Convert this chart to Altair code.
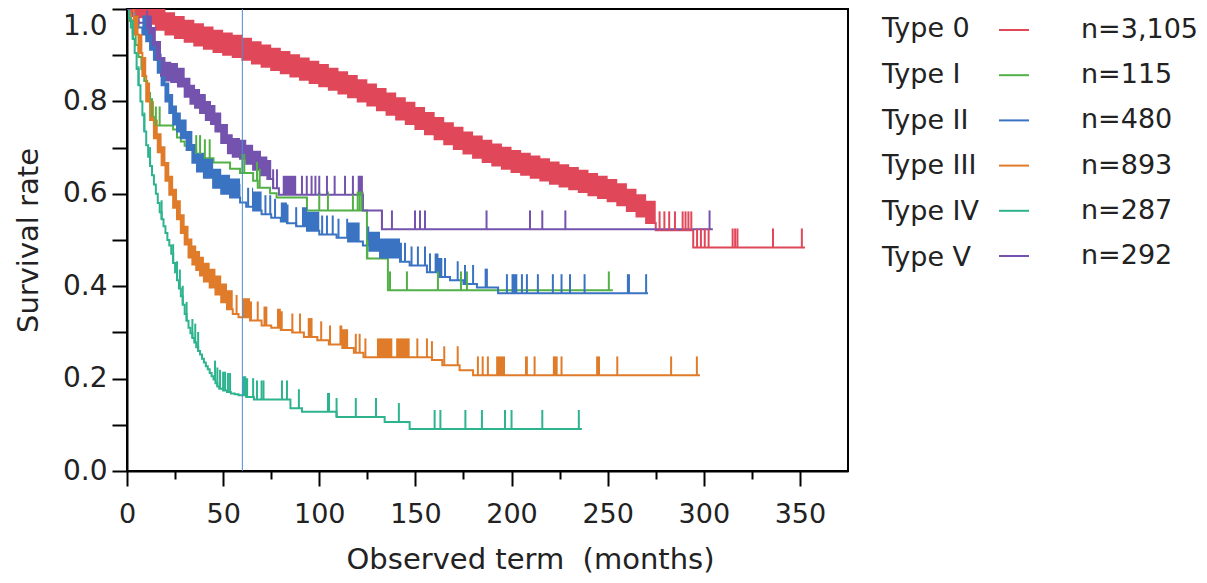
import altair as alt
import pandas as pd

TYPES = ["Type 0", "Type I", "Type II", "Type III", "Type IV", "Type V"]
N_LABELS = ["n=3,105", "n=115", "n=480", "n=893", "n=287", "n=292"]
COLORS = ["#E0485A", "#52B046", "#3B73C3", "#E07B2A", "#2DB38E", "#7453AE"]

X_TICKS = [0, 25, 50, 75, 100, 125, 150, 175, 200, 225, 250, 275, 300, 325, 350]
Y_TICKS = [0.0, 0.1, 0.2, 0.3, 0.4, 0.5, 0.6, 0.7, 0.8, 0.9, 1.0]
FIVE_YEAR = [60]

# ---- Type 0 ----
T0_TIME = [0, 2, 5, 10, 15, 20, 25, 30, 35, 40, 45, 50, 55, 60, 65, 70, 75, 80, 85, 90,
           95, 100, 105, 110, 115, 120, 125, 130, 135, 140, 145, 150, 155, 160, 165, 170,
           175, 180, 185, 190, 195, 200, 205, 210, 215, 220, 225, 230, 235, 240, 245, 250,
           255, 260, 265, 270, 275, 294.5]
T0_SURV = [1.000, 0.993, 0.982, 0.968, 0.955, 0.945, 0.937, 0.929, 0.921, 0.914, 0.907,
           0.901, 0.896, 0.890, 0.882, 0.875, 0.868, 0.861, 0.854, 0.847, 0.840, 0.833,
           0.825, 0.817, 0.809, 0.800, 0.791, 0.781, 0.771, 0.761, 0.751, 0.740, 0.729,
           0.718, 0.707, 0.697, 0.687, 0.678, 0.669, 0.661, 0.654, 0.647, 0.641, 0.635,
           0.629, 0.622, 0.616, 0.610, 0.604, 0.597, 0.591, 0.584, 0.575, 0.563, 0.551,
           0.537, 0.521, 0.484]
T0_END = 352.6
T0_CENSOR = [277, 279.5, 282, 285, 289, 290.5, 292, 293.5, 296.5, 298.5, 300.5, 302.5,
             315, 316.3, 317.5, 336, 351]
T0_DENSE = [(0, 275)]

# ---- Type I ----
T1_TIME = [0, 1.5, 3, 4.5, 6, 7.5, 9, 10.5, 12, 13, 14, 24, 26, 28, 30, 33, 36, 40, 45,
           53.6, 58.8, 65.6, 68, 74.4, 77.8, 93.6, 124.8, 135.7]
T1_SURV = [1.0, 0.974, 0.948, 0.922, 0.896, 0.870, 0.844, 0.818, 0.792, 0.766, 0.748,
           0.739, 0.722, 0.713, 0.704, 0.695, 0.686, 0.677, 0.668, 0.654, 0.645, 0.628,
           0.613, 0.601, 0.592, 0.564, 0.460, 0.391]
T1_END = 252.7
T1_CENSOR = [13, 15, 17, 36, 38, 40.5, 43, 60, 61, 67.6, 69, 100, 104.5, 117.5, 120,
             121, 122, 125, 136.8, 145.6, 161.7, 173.7, 176.8, 250.6]
T1_DENSE = []

# ---- Type II ----
T2_TIME = [0, 2, 4, 6, 8, 10, 12, 14, 16, 18, 20, 22, 24, 26, 28, 31, 34, 36.4, 40, 44.8,
           49, 53.6, 58.8, 62, 65.6, 70, 75, 80, 83.2, 88, 93.6, 100, 109, 115, 122.7,
           126, 131.6, 142, 147, 156, 162, 168, 175, 182, 193]
T2_SURV = [1.0, 0.99, 0.975, 0.96, 0.945, 0.93, 0.912, 0.89, 0.862, 0.835, 0.80, 0.775,
           0.75, 0.735, 0.72, 0.695, 0.667, 0.648, 0.635, 0.613, 0.60, 0.592, 0.581,
           0.572, 0.564, 0.556, 0.548, 0.54, 0.536, 0.53, 0.52, 0.512, 0.505, 0.497,
           0.488, 0.477, 0.462, 0.453, 0.445, 0.43, 0.42, 0.413, 0.405, 0.397, 0.385]
T2_END = 271
T2_CENSOR = [63, 72, 74.5, 77, 88, 101.5, 104, 107, 110, 144.6, 148, 151.3, 155, 157.6,
             165.4, 172, 175.8, 180, 197.6, 205.4, 208, 213.7, 221.5, 226, 230.4, 238, 270]
T2_DENSE = [(8, 59), (65, 70), (80, 84), (91, 100), (114, 121), (125, 143), (160, 164),
            (186, 187.7), (200, 203), (260, 261.6)]

# ---- Type III ----
T3_TIME = [0, 2, 4, 6, 8, 10, 12, 14, 16, 18, 20, 22, 24, 26, 28, 30, 32, 34, 36, 38, 40,
           43, 46, 49, 52, 55, 58, 64, 70, 75, 80, 86, 92, 99, 105, 112, 118, 123, 158.6,
           164, 173, 180]
T3_SURV = [1.0, 0.975, 0.945, 0.905, 0.855, 0.80, 0.76, 0.72, 0.69, 0.662, 0.628, 0.598,
           0.57, 0.545, 0.515, 0.49, 0.462, 0.447, 0.435, 0.423, 0.41, 0.397, 0.382,
           0.365, 0.35, 0.34, 0.333, 0.326, 0.315, 0.31, 0.305, 0.30, 0.29, 0.283, 0.274,
           0.266, 0.256, 0.246, 0.24, 0.229, 0.218, 0.207]
T3_END = 298
T3_CENSOR = [57, 68, 86, 90, 101, 105.6, 119, 121, 124, 151, 156, 158.6, 165, 172, 182.5,
             185, 187.7, 212, 226, 255, 283, 296.4]
T3_DENSE = [(3, 55), (60, 65), (71, 73), (78, 81), (94, 96.5), (110.5, 115), (130, 138),
            (140, 147), (192, 196.6), (207, 208.5), (221.5, 224), (244, 246)]

# ---- Type IV ----
T4_TIME = [0, 1, 2, 3, 4, 5, 6, 7, 8, 9, 10, 11, 12, 13, 14, 15, 16, 17, 18, 19, 20, 21,
           22, 23, 24, 25, 26, 27, 28, 29, 30, 31, 32, 33, 34, 35, 36, 37, 38, 39, 40, 41,
           42, 43, 44, 45, 46, 47, 48, 50, 52, 54, 56, 58, 62, 66, 85, 91, 109, 134, 147]
T4_SURV = [1.0, 0.98, 0.96, 0.935, 0.905, 0.87, 0.835, 0.80, 0.77, 0.735, 0.705, 0.68,
           0.66, 0.64, 0.62, 0.60, 0.58, 0.56, 0.545, 0.53, 0.515, 0.50, 0.488, 0.47,
           0.45, 0.43, 0.413, 0.395, 0.378, 0.36, 0.34, 0.325, 0.31, 0.298, 0.288, 0.278,
           0.268, 0.26, 0.252, 0.243, 0.235, 0.227, 0.22, 0.212, 0.205, 0.198, 0.19,
           0.183, 0.178, 0.174, 0.171, 0.168, 0.166, 0.164, 0.16, 0.155, 0.136, 0.128,
           0.117, 0.106, 0.091]
T4_END = 236.6
T4_CENSOR = [3, 6, 9, 12, 18, 24, 26, 27.5, 29, 31, 34, 35.5, 37, 45.8, 47, 48.4, 50, 51,
             52.5, 53.6, 65.6, 67.6, 70, 71, 80.6, 83.2, 89.4, 109, 119, 129.5, 141.4,
             160, 163, 176, 184.6, 196.6, 200, 216, 235]
T4_DENSE = [(60, 63), (104, 105.6)]

# ---- Type V ----
T5_TIME = [0, 3, 6, 9, 11, 13, 15, 17.7, 20, 23, 26.5, 30, 33, 35.4, 38, 41, 43.7, 46, 49,
           52.5, 55, 58.8, 62, 65.6, 69.7, 73, 76, 79, 122.7, 132.6]
T5_SURV = [1.0, 0.985, 0.97, 0.955, 0.945, 0.92, 0.89, 0.855, 0.845, 0.842, 0.832, 0.81,
           0.795, 0.786, 0.775, 0.76, 0.751, 0.735, 0.71, 0.688, 0.68, 0.676, 0.665,
           0.652, 0.64, 0.632, 0.612, 0.598, 0.564, 0.523]
T5_END = 304.7
T5_CENSOR = [76, 78, 91, 93.5, 96, 98, 100, 104, 108, 113.4, 117.5, 132.6, 137.8, 149.8,
             152.4, 155, 187, 209.6, 216, 228, 303]
T5_DENSE = [(10, 75), (81, 88), (120, 123)]

CURVES = [
    ("Type 0", T0_TIME, T0_SURV, T0_END, T0_CENSOR, T0_DENSE),
    ("Type I", T1_TIME, T1_SURV, T1_END, T1_CENSOR, T1_DENSE),
    ("Type II", T2_TIME, T2_SURV, T2_END, T2_CENSOR, T2_DENSE),
    ("Type III", T3_TIME, T3_SURV, T3_END, T3_CENSOR, T3_DENSE),
    ("Type IV", T4_TIME, T4_SURV, T4_END, T4_CENSOR, T4_DENSE),
    ("Type V", T5_TIME, T5_SURV, T5_END, T5_CENSOR, T5_DENSE),
]

TICK_H = 0.041       # length of a censoring mark, in survival units
DENSE_H = {"Type 0": 0.048}  # the densely censored Type 0 band looks a bit taller


def surv_at(times, survs, t):
    v = survs[0]
    for ti, si in zip(times, survs):
        if ti <= t:
            v = si
        else:
            break
    return v


line_rows, band_rows, tick_rows = [], [], []
for name, ts, ss, end, cens, dense in CURVES:
    for ti, si in zip(ts, ss):
        line_rows.append({"type": name, "t": ti, "s": si})
    line_rows.append({"type": name, "t": end, "s": ss[-1]})
    h = DENSE_H.get(name, TICK_H)
    for k, (a, b) in enumerate(dense):
        pts = [a] + [ti for ti in ts if a < ti < b] + [b]
        for p in pts:
            s = surv_at(ts, ss, p)
            band_rows.append({"type": name, "band": f"{name}-{k}", "t": p, "s": s,
                              "s2": s + h})
    for c in cens:
        s = surv_at(ts, ss, c)
        tick_rows.append({"type": name, "t": c, "s": s, "s2": s + TICK_H})

lines_df = pd.DataFrame(line_rows)
bands_df = pd.DataFrame(band_rows)
ticks_df = pd.DataFrame(tick_rows)
legend_df = pd.DataFrame({"name": TYPES})
vline_df = pd.DataFrame({"t": FIVE_YEAR})

FONT = "DejaVu Sans"
TXT = "#222222"

color_scale = alt.Scale(domain=TYPES, range=COLORS)

x_axis = alt.Axis(
    values=X_TICKS,
    labelExpr="datum.value % 50 === 0 ? datum.label : ''",
    tickSize={"condition": {"test": "datum.value % 50 === 0", "value": 15}, "value": 8},
    labelFlush=False,
    labelFontSize=27,
    labelPadding=15,
    titleFontSize=29,
    titleX=403,
    titleY=97,
    titleAlign="center",
    titleBaseline="alphabetic",
)
y_axis = alt.Axis(
    values=Y_TICKS,
    labelExpr="round(datum.value * 10) % 2 === 0 ? format(datum.value, '.1f') : ''",
    tickSize=15,
    labelFlush=False,
    labelFontSize=28,
    labelPadding=5,
    labelBaseline={"condition": {"test": "datum.value >= 1", "value": "top"}, "value": "middle"},
    labelOffset={"condition": {"test": "datum.value >= 1", "value": 3}, "value": 0},
    titleFontSize=29,
    titleX=-90,
    titleY=231,
    titleBaseline="alphabetic",
)

X = alt.X("t:Q", scale=alt.Scale(domain=[0, 375], nice=False, zero=False),
          axis=x_axis, title="Observed term\u00a0 (months)")
Y = alt.Y("s:Q", scale=alt.Scale(domain=[0, 1], nice=False), axis=y_axis,
          title="Survival rate")

N_EXPR = ("[" + ",".join(f"'{n}'" for n in N_LABELS) + "][indexof(["
          + ",".join(f"'{t}'" for t in TYPES) + "], datum.label)]")

legend_n = alt.Legend(
    orient="none", legendX=871, legendY=5, padding=0,
    symbolType="stroke", symbolSize=900, symbolStrokeWidth=2,
    labelFont=FONT, labelFontSize=27, labelColor=TXT, labelOffset=51,
    rowPadding=16.2, labelExpr=N_EXPR,
)
COLOR = alt.Color("type:N", scale=color_scale, title=None, legend=legend_n)

lines = alt.Chart(lines_df).mark_line(interpolate="step-after", strokeWidth=2,
                                      clip=True).encode(x=X, y=Y, color=COLOR)

bands = alt.Chart(bands_df).mark_area(interpolate="step-after", clip=True).encode(
    x=X, y=Y, y2=alt.Y2("s2:Q"), detail="band:N", color=COLOR,
)

ticks = alt.Chart(ticks_df).mark_rule(strokeWidth=2, clip=True).encode(
    x=X, y=Y, y2=alt.Y2("s2:Q"), color=COLOR,
)

legend_pts = alt.Chart(legend_df).mark_point(opacity=0).encode(
    x=alt.value(0), y=alt.value(0),
    shape=alt.Shape(
        "name:N", title=None,
        legend=alt.Legend(
            orient="none", legendX=721, legendY=5, padding=0,
            symbolSize=900, symbolOpacity=0, symbolStrokeWidth=0,
            labelFont=FONT, labelFontSize=27, labelColor=TXT, labelOffset=4,
            rowPadding=16.2,
        ),
    ),
)

vline = alt.Chart(vline_df).mark_rule(color="#4A8FD4", strokeWidth=1).encode(x=X)

chart = alt.layer(lines, bands, ticks, legend_pts, vline).properties(
    width=721, height=462,
    autosize=alt.AutoSizeParams(type="none"),
    padding={"left": 119, "top": 1, "right": 351, "bottom": 104},
).configure_view(
    stroke="black", strokeWidth=2,
).configure_axis(
    grid=False, domainColor="black", domainWidth=2, tickColor="black", tickWidth=2,
    labelFont=FONT, titleFont=FONT, labelColor=TXT, titleColor=TXT,
    titleFontWeight="normal",
)

chart.save("out.html", embed_options={"renderer": "svg", "actions": False})
